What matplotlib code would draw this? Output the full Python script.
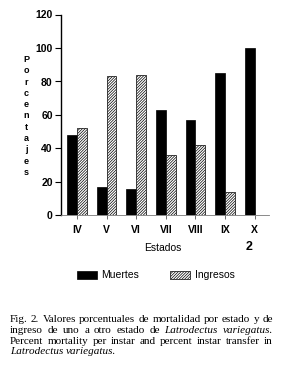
import numpy as np
import matplotlib
matplotlib.use("Agg")
import matplotlib.pyplot as plt
from matplotlib.patches import Rectangle

## datos
estados = ["IV", "V", "VI", "VII", "VIII", "IX", "X"]
muertes = [48, 17, 16, 63, 57, 85, 100]
ingresos = [52, 83, 84, 36, 42, 14, 0]
yticks = [0, 20, 40, 60, 80, 100, 120]

plt.rcParams["hatch.linewidth"] = 0.5
W, H = 286, 376
fig = plt.figure(figsize=(W / 100, H / 100), dpi=100)
fig.patch.set_facecolor("white")

def fx(px):
    return px / W

def fy(py):
    return 1 - py / H

ax = fig.add_axes([fx(61), fy(215.5), fx(269) - fx(61), fy(14.5) - fy(215.5)])
x = np.arange(len(estados))
w = 0.33
ax.bar(x - w / 2, muertes, w, color="black", edgecolor="black", linewidth=0.5, label="Muertes")
ax.bar(x + w / 2, ingresos, w, color="white", edgecolor="black", linewidth=0.5,
       hatch="////////////", label="Ingresos")

ax.set_xlim(-0.54, 6.49)
ax.set_ylim(0, 120)
ax.set_yticks(yticks)
ax.set_xticks(x)
ax.set_xticklabels(estados)
for s in ["top", "right"]:
    ax.spines[s].set_visible(False)
ax.spines["left"].set_linewidth(1.0)
ax.spines["bottom"].set_linewidth(0.6)
ax.spines["bottom"].set_color("#777777")
ax.tick_params(axis="y", length=4, width=0.8, pad=2, labelsize=7.5)
ax.tick_params(axis="x", length=3, width=0.6, color="#555555", pad=4, labelsize=7.5)
for lab in ax.get_xticklabels() + ax.get_yticklabels():
    lab.set_fontfamily("Liberation Sans")
    lab.set_fontweight("bold")

## etiqueta vertical letra por letra
fig.text(fx(26), fy(116), "\n".join("Porcentajes"), ha="center", va="center",
         fontsize=6.5, fontweight="bold", family="Liberation Sans", linespacing=1.33)

fig.text(fx(163), fy(248), "Estados", ha="center", va="center", fontsize=7.5,
         family="Liberation Sans")
fig.text(fx(249), fy(247), "2", ha="center", va="center", fontsize=9,
         fontweight="bold", family="Liberation Sans")

## leyenda hecha a mano
fig.patches.append(Rectangle((fx(77), fy(279)), fx(20), fy(271) - fy(279), transform=fig.transFigure,
                             facecolor="black", edgecolor="black", linewidth=0.5))
fig.text(fx(101), fy(275), "Muertes", ha="left", va="center", fontsize=7.5, family="Liberation Sans")
fig.patches.append(Rectangle((fx(170), fy(279)), fx(20), fy(271) - fy(279), transform=fig.transFigure,
                             facecolor="white", edgecolor="black", linewidth=0.5, hatch="////////////"))
fig.text(fx(195), fy(275), "Ingresos", ha="left", va="center", fontsize=7.5, family="Liberation Sans")

## leyenda de la figura, justificada
lineas = [
    ([("Fig.", 0), ("2.", 0), ("Valores", 0), ("porcentuales", 0), ("de", 0), ("mortalidad", 0),
      ("por", 0), ("estado", 0), ("y", 0), ("de", 0)], True),
    ([("ingreso", 0), ("de", 0), ("uno", 0), ("a", 0), ("otro", 0), ("estado", 0), ("de", 0),
      ("Latrodectus", 1), ("variegatus.", 1)], True),
    ([("Percent", 0), ("mortality", 0), ("per", 0), ("instar", 0), ("and", 0), ("percent", 0),
      ("instar", 0), ("transfer", 0), ("in", 0)], True),
    ([("Latrodectus", 1), ("variegatus.", 1)], False),
]
ys = [320, 330.5, 341, 351.5]
x0, x1 = 10, 273
fig.canvas.draw()
r = fig.canvas.get_renderer()

## tamaño de letra para que la primera linea quepa con espacios normales
tam = 8.6
while tam > 5:
    t = fig.text(0, 0, "Fig. 2. Valores porcentuales de mortalidad por estado y de",
                 fontsize=tam, family="Liberation Serif")
    ancho = t.get_window_extent(r).width
    t.remove()
    if ancho <= x1 - x0 - 2:
        break
    tam -= 0.1

for (palabras, justif), yy in zip(lineas, ys):
    textos = []
    for p, it in palabras:
        t = fig.text(0, fy(yy), p, ha="left", va="center", fontsize=tam,
                     family="Liberation Serif", style="italic" if it else "normal")
        textos.append(t)
    anchos = [t.get_window_extent(r).width for t in textos]
    if justif:
        gap = (x1 - x0 - sum(anchos)) / (len(textos) - 1)
    else:
        gap = tam * 0.35
    pos = x0
    for t, a in zip(textos, anchos):
        t.set_x(fx(pos))
        pos += a + gap

fig.savefig("out.png", dpi=100, facecolor="white")
